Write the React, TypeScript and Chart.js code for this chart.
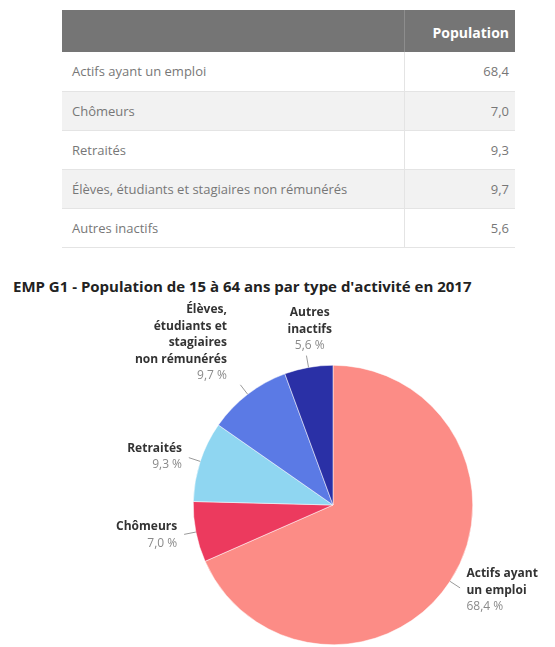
import React, { useEffect, useRef } from "react";
import { Chart, registerables } from "chart.js";

Chart.register(...registerables);

const title = "EMP G1 - Population de 15 à 64 ans par type d'activité en 2017";
const tableHeader = "Population";
const categories = [
  "Actifs ayant un emploi",
  "Chômeurs",
  "Retraités",
  "Élèves, étudiants et stagiaires non rémunérés",
  "Autres inactifs",
];
const labelLines = [
  ["Actifs ayant", "un emploi"],
  ["Chômeurs"],
  ["Retraités"],
  ["Élèves,", "étudiants et", "stagiaires", "non rémunérés"],
  ["Autres", "inactifs"],
];
const values = [68.4, 7.0, 9.3, 9.7, 5.6];
const colors = ["#fc8c86", "#ec3a5e", "#8fd6f1", "#5b7ae5", "#2a30a6"];

const fmt = (v: number) => v.toFixed(1).replace(".", ",");

const FONT = "'Open Sans', 'Noto Sans', sans-serif";

const labelPlugin = {
  id: "outLabels",
  afterDatasetsDraw(chart: any) {
    const ctx = chart.ctx;
    const meta = chart.getDatasetMeta(0);
    const lh = 16.5;
    meta.data.forEach((arc: any, i: number) => {
      const { x, y, startAngle, endAngle, outerRadius } = arc.getProps(
        ["x", "y", "startAngle", "endAngle", "outerRadius"],
        true
      );
      const a = (startAngle + endAngle) / 2;
      const c = Math.cos(a);
      const s = Math.sin(a);
      const r0 = outerRadius;
      const r1 = outerRadius + 12;
      ctx.save();
      ctx.strokeStyle = "#9a9a9a";
      ctx.lineWidth = 1;
      ctx.beginPath();
      ctx.moveTo(x + c * r0, y + s * r0);
      ctx.lineTo(x + c * r1, y + s * r1);
      ctx.stroke();

      const lines = [...labelLines[i], fmt(values[i]) + " %"];
      const ax = x + c * (outerRadius + 16);
      const ay = y + s * (outerRadius + 16);
      let align: CanvasTextAlign = "center";
      let tx = ax;
      if (c > 0.3) {
        align = "left";
        tx = ax + 3;
      } else if (c < -0.3) {
        align = "right";
        tx = ax - 3;
      }
      let firstY: number;
      if (s < -0.5) {
        firstY = ay - 6 - (lines.length - 1) * lh;
        if (align === "right") tx -= 8;
        if (align === "center") tx += 4;
      } else {
        firstY = ay - ((lines.length - 1) * lh) / 2;
      }
      ctx.textAlign = align;
      ctx.textBaseline = "middle";
      lines.forEach((t, k) => {
        const isVal = k === lines.length - 1;
        ctx.font = (isVal ? "12px " : "bold 12px ") + FONT;
        ctx.fillStyle = isVal ? "#8a8a8a" : "#333333";
        ctx.fillText(t, tx, firstY + k * lh);
      });
      ctx.restore();
    });
  },
};

function PieChart() {
  const ref = useRef<HTMLCanvasElement | null>(null);
  useEffect(() => {
    if (!ref.current) return;
    const chart = new Chart(ref.current, {
      type: "pie",
      data: {
        labels: categories,
        datasets: [
          {
            data: values,
            backgroundColor: colors,
            borderColor: "#ffffff",
            borderWidth: 0.5,
          },
        ],
      },
      options: {
        animation: false,
        responsive: false,
        maintainAspectRatio: false,
        layout: { padding: { left: 193, right: 82, top: 69, bottom: 2 } },
        plugins: {
          legend: { display: false },
          tooltip: { enabled: false },
          title: { display: false },
        },
      },
      plugins: [labelPlugin],
    });
    return () => chart.destroy();
  }, []);
  return (
    <canvas
      ref={ref}
      width={555}
      height={351}
      style={{ position: "absolute", left: 0, top: 296, width: 555, height: 351 }}
    />
  );
}

export default function App() {
  const rowH = 39;
  return (
    <div
      style={{
        position: "absolute",
        left: 0,
        top: 0,
        width: 555,
        height: 647,
        overflow: "hidden",
        background: "#fff",
        fontFamily: FONT,
      }}
    >
      <table
        style={{
          position: "absolute",
          left: 62,
          top: 10,
          width: 453,
          borderCollapse: "collapse",
          fontSize: 13,
          color: "#777",
        }}
      >
        <thead>
          <tr style={{ background: "#757575", height: 42 }}>
            <th style={{ borderRight: "1px solid #8d8d8d" }}></th>
            <th
              style={{
                width: 98,
                textAlign: "right",
                color: "#fff",
                fontWeight: 700,
                fontSize: 14,
                padding: "0 6px",
                verticalAlign: "bottom",
                paddingBottom: 10,
              }}
            >
              {tableHeader}
            </th>
          </tr>
        </thead>
        <tbody>
          {categories.map((c, i) => (
            <tr
              key={c}
              style={{
                height: rowH,
                background: i % 2 === 1 ? "#f2f2f2" : "#ffffff",
                borderBottom: "1px solid #e4e4e4",
              }}
            >
              <td style={{ padding: "0 10px", borderRight: "1px solid #e4e4e4" }}>{c}</td>
              <td style={{ textAlign: "right", padding: "0 6px" }}>{fmt(values[i])}</td>
            </tr>
          ))}
        </tbody>
      </table>
      <div
        style={{
          position: "absolute",
          left: 13,
          top: 276,
          fontSize: 15,
          fontWeight: 700,
          color: "#222",
          whiteSpace: "nowrap",
        }}
      >
        {title}
      </div>
      <PieChart />
    </div>
  );
}
